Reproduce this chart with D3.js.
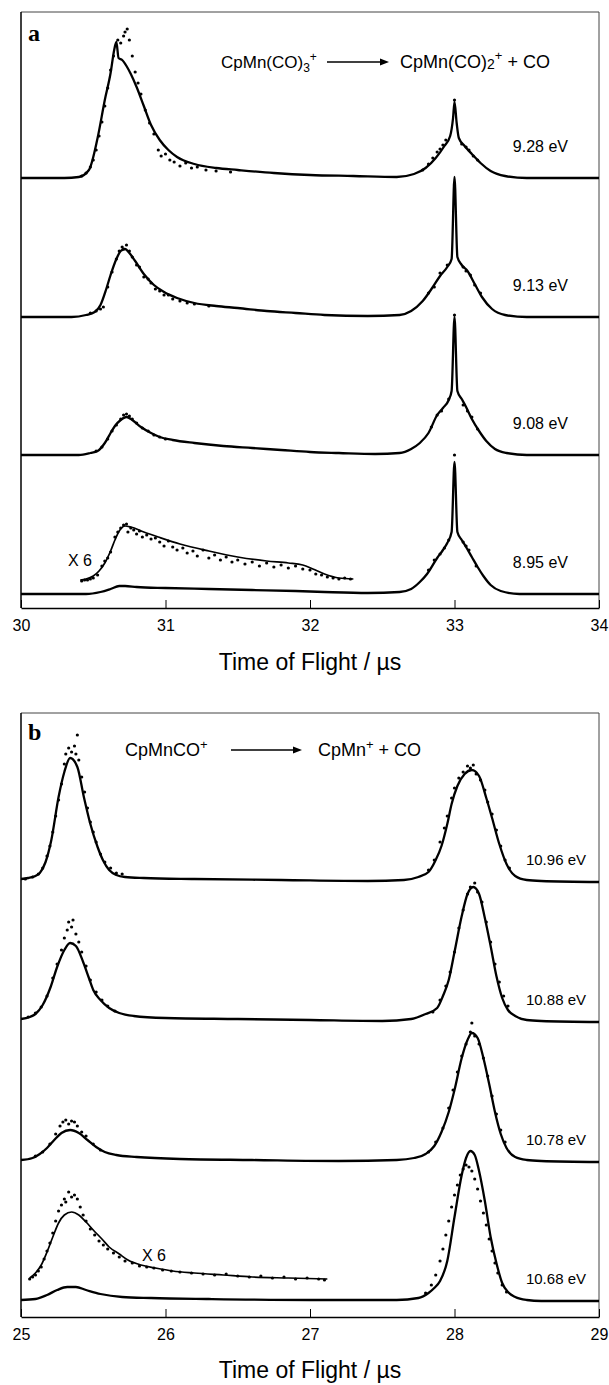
<!DOCTYPE html>
<html>
<head>
<meta charset="utf-8">
<script src="https://cdn.jsdelivr.net/npm/d3@7"></script>
<style>
  body { margin: 0; background: #fff; }
  svg { display: block; font-family: "Liberation Sans", Arial, sans-serif; }
</style>
</head>
<body>
<svg id="chart" width="609" height="1385"></svg>
<script>
// ---- panel a : CpMn(CO)3+ -> CpMn(CO)2+ + CO ----
var ticksA = [30, 31, 32, 33, 34];
var energiesA = ["9.28 eV", "9.13 eV", "9.08 eV", "8.95 eV"];
var offsetsA = [430, 291, 153, 14];   // stacking of the traces (a.u.)

// fitted curves [time (us), intensity (a.u.)]
var fitA1 = [[30.00,0],[30.30,0],[30.40,1],[30.47,8],[30.53,40],[30.58,78],[30.62,105],[30.645,128],[30.66,136],[30.675,120],[30.70,118],[30.73,112],[30.76,104],[30.80,91],[30.85,72],[30.90,53],[30.96,38],[31.02,28],[31.08,21],[31.20,14],[31.35,10],[31.50,8],[31.75,5],[32.00,3],[32.30,2],[32.60,1],[32.72,4],[32.80,10],[32.87,20],[32.93,32],[32.97,42],[32.99,60],[33.00,76],[33.015,55],[33.03,40],[33.07,32],[33.12,24],[33.18,15],[33.25,7],[33.35,2],[33.50,0],[34.00,0]];
var fitA2 = [[30.00,0],[30.35,0],[30.45,2],[30.51,5],[30.55,12],[30.59,28],[30.62,42],[30.66,58],[30.69,66],[30.72,68],[30.75,64],[30.79,56],[30.85,43],[30.92,32],[30.99,25],[31.08,19],[31.20,14],[31.35,11],[31.50,9],[31.70,6],[31.90,4],[32.10,2],[32.40,1],[32.62,2],[32.70,6],[32.78,16],[32.85,30],[32.90,41],[32.95,50],[32.98,58],[33.00,140],[33.02,60],[33.05,52],[33.09,46],[33.14,33],[33.19,20],[33.26,8],[33.35,2],[33.50,0],[34.00,0]];
var fitA3 = [[30.00,0],[30.40,0],[30.48,2],[30.53,4],[30.58,12],[30.62,22],[30.65,29],[30.69,35],[30.73,38],[30.77,35],[30.83,28],[30.90,22],[30.96,18],[31.05,15],[31.20,12],[31.40,9],[31.60,7],[31.80,5],[32.00,3],[32.20,2],[32.45,1],[32.62,2],[32.70,6],[32.76,12],[32.82,22],[32.88,40],[32.92,47],[32.96,55],[32.98,64],[33.00,138],[33.02,64],[33.05,56],[33.08,48],[33.12,36],[33.17,24],[33.22,14],[33.28,6],[33.36,2],[33.50,0],[34.00,0]];
var fitA4 = [[30.00,0],[30.45,0],[30.55,2],[30.62,5],[30.68,8],[30.72,8],[30.80,7],[31.00,6],[31.30,5],[31.60,4],[31.90,3],[32.10,2],[32.40,1],[32.62,2],[32.70,5],[32.76,12],[32.81,20],[32.88,36],[32.92,44],[32.95,51],[32.98,62],[33.00,132],[33.02,62],[33.05,54],[33.08,47],[33.12,37],[33.16,27],[33.20,18],[33.25,9],[33.32,3],[33.45,0],[34.00,0]];
var x6FitA = [[30.41,14],[30.45,15],[30.50,18],[30.54,23],[30.58,31],[30.62,43],[30.65,54],[30.68,63],[30.72,68],[30.76,67],[30.85,62],[30.95,57],[31.10,50],[31.30,43],[31.50,37],[31.70,33],[31.85,31],[31.95,29],[32.02,25],[32.10,20],[32.20,16],[32.30,15]];

// measured points
var dotsA1 = [[30.42,2],[30.45,5],[30.48,11],[30.50,18],[30.52,28],[30.54,42],[30.56,56],[30.58,72],[30.60,90],[30.62,108],[30.64,122],[30.67,138],[30.69,135],[30.71,142],[30.72,146],[30.735,149],[30.75,138],[30.77,122],[30.79,106],[30.81,95],[30.83,84],[30.86,68],[30.89,55],[30.92,44],[30.95,28],[30.97,22],[31.00,24],[31.03,18],[31.06,16],[31.10,12],[31.14,15],[31.18,10],[31.22,11],[31.28,8],[31.35,7],[31.45,6],[32.78,8],[32.82,14],[32.85,20],[32.88,26],[32.90,29],[32.92,33],[32.94,38],[33.00,78],[33.05,34],[33.08,31],[33.10,28],[33.13,22],[33.16,18]];
var dotsA2 = [[30.48,4],[30.52,6],[30.55,8],[30.57,10],[30.60,30],[30.63,45],[30.66,58],[30.68,66],[30.70,70],[30.71,68],[30.73,72],[30.75,66],[30.77,60],[30.80,52],[30.82,50],[30.85,40],[30.88,38],[30.90,34],[30.93,28],[30.96,26],[30.99,22],[31.02,22],[31.05,18],[31.10,16],[31.15,14],[31.20,13],[31.30,11],[32.82,24],[32.86,30],[32.90,44],[32.95,52],[33.00,132],[33.06,50],[33.08,46],[33.11,42],[33.14,32],[33.18,24]];
var dotsA3 = [[30.52,4],[30.56,8],[30.60,16],[30.63,24],[30.66,30],[30.69,36],[30.71,40],[30.73,41],[30.75,39],[30.77,36],[30.80,32],[30.84,27],[30.88,24],[30.92,20],[30.96,18],[31.00,16],[32.84,28],[32.88,40],[32.91,44],[32.96,56],[33.00,140],[33.06,50],[33.09,44],[33.12,38],[33.16,26]];
var dotsA4 = [[32.82,24],[32.86,34],[32.90,40],[32.93,46],[32.96,54],[33.00,139],[33.06,52],[33.08,48],[33.10,44],[33.15,28]];
var x6DotsA = [[30.42,13],[30.44,14],[30.46,14],[30.48,15],[30.50,16],[30.53,19],[30.56,28],[30.58,33],[30.60,36],[30.62,42],[30.65,57],[30.67,62],[30.69,66],[30.71,69],[30.73,70],[30.74,62],[30.76,66],[30.78,64],[30.80,60],[30.82,63],[30.84,57],[30.87,59],[30.90,55],[30.93,56],[30.96,52],[30.99,48],[31.02,53],[31.05,47],[31.08,44],[31.12,46],[31.15,41],[31.19,43],[31.22,38],[31.26,44],[31.30,36],[31.34,39],[31.38,34],[31.42,37],[31.46,32],[31.50,34],[31.55,30],[31.60,32],[31.65,28],[31.70,31],[31.75,27],[31.80,29],[31.85,26],[31.90,28],[31.95,25],[32.00,24],[32.04,20],[32.08,19],[32.12,17],[32.16,16],[32.20,15],[32.24,16],[32.28,15]];

// ---- panel b : CpMnCO+ -> CpMn+ + CO ----
var ticksB = [25, 26, 27, 28, 29];
var energiesB = ["10.96 eV", "10.88 eV", "10.78 eV", "10.68 eV"];
var offsetsB = [435, 295, 155, 16];

var fitB1 = [[25.00,3],[25.05,4],[25.10,6],[25.13,9],[25.17,20],[25.21,42],[25.26,85],[25.30,110],[25.34,124],[25.39,115],[25.435,85],[25.48,58],[25.53,35],[25.57,21],[25.61,12],[25.66,7],[25.72,5],[25.85,4],[26.20,3],[26.80,2],[27.40,1],[27.65,2],[27.75,5],[27.82,10],[27.87,22],[27.91,36],[27.95,58],[27.98,78],[28.02,96],[28.07,108],[28.12,112],[28.17,106],[28.22,84],[28.26,64],[28.31,38],[28.36,18],[28.42,6],[28.50,2],[28.60,1],[29.00,0]];
var fitB2 = [[25.00,3],[25.06,5],[25.10,8],[25.15,17],[25.205,35],[25.25,55],[25.30,72],[25.34,79],[25.38,76],[25.43,60],[25.47,44],[25.50,32],[25.55,22],[25.61,14],[25.68,9],[25.78,6],[26.00,4],[26.50,3],[27.00,2],[27.50,1],[27.70,3],[27.80,8],[27.88,14],[27.92,26],[27.96,42],[28.00,70],[28.05,106],[28.09,128],[28.13,135],[28.17,128],[28.21,104],[28.25,76],[28.29,46],[28.33,24],[28.37,12],[28.42,6],[28.50,2],[28.60,1],[29.00,0]];
var fitB3 = [[25.00,2],[25.08,4],[25.13,8],[25.18,14],[25.23,22],[25.28,29],[25.34,32],[25.40,29],[25.46,22],[25.52,15],[25.58,10],[25.66,7],[25.80,5],[26.10,3],[26.60,2],[27.20,1],[27.60,2],[27.72,4],[27.80,8],[27.86,16],[27.91,30],[27.96,50],[28.00,72],[28.05,104],[28.09,122],[28.12,129],[28.16,124],[28.20,104],[28.24,78],[28.28,50],[28.32,28],[28.36,14],[28.42,5],[28.50,2],[28.60,1],[29.00,0]];
var fitB4 = [[25.00,1],[25.10,2],[25.18,6],[25.25,11],[25.32,14],[25.38,14],[25.45,11],[25.55,7],[25.70,4],[25.90,3],[26.30,2],[27.00,1],[27.60,1],[27.75,3],[27.82,8],[27.86,13],[27.90,20],[27.95,40],[28.00,84],[28.05,126],[28.08,143],[28.11,150],[28.14,146],[28.17,130],[28.21,100],[28.25,64],[28.29,38],[28.33,18],[28.37,9],[28.42,4],[28.50,1],[28.60,0],[29.00,0]];
var x6FitB = [[25.06,23],[25.10,28],[25.14,36],[25.18,49],[25.22,64],[25.26,78],[25.30,86],[25.35,89],[25.40,86],[25.45,79],[25.50,71],[25.56,62],[25.61,54],[25.68,47],[25.74,41],[25.83,36],[25.93,33],[26.05,30],[26.20,28],[26.40,26],[26.60,24],[26.85,23],[27.12,22]];

var dotsB1 = [[25.03,3],[25.08,5],[25.12,8],[25.15,14],[25.18,26],[25.20,36],[25.22,50],[25.24,66],[25.26,82],[25.28,98],[25.30,118],[25.31,128],[25.33,134],[25.35,130],[25.37,136],[25.38,128],[25.39,147],[25.40,122],[25.42,105],[25.44,90],[25.46,74],[25.48,60],[25.50,50],[25.52,40],[25.55,28],[25.58,20],[25.62,14],[25.66,9],[25.70,8],[27.82,12],[27.86,22],[27.90,40],[27.93,54],[27.95,66],[27.98,84],[28.00,94],[28.03,104],[28.06,110],[28.09,116],[28.11,114],[28.13,117],[28.15,108],[28.18,102],[28.21,92],[28.23,80],[28.26,68],[28.29,52],[28.32,36],[28.35,22],[28.38,14]];
var dotsB2 = [[25.05,5],[25.10,9],[25.14,15],[25.18,26],[25.22,44],[25.25,58],[25.28,72],[25.30,84],[25.32,92],[25.33,100],[25.35,95],[25.36,102],[25.38,88],[25.40,80],[25.42,70],[25.45,56],[25.48,42],[25.52,30],[25.56,22],[25.60,16],[25.65,11],[27.85,10],[27.90,22],[27.94,36],[27.97,50],[28.00,70],[28.03,94],[28.06,112],[28.09,128],[28.11,135],[28.14,139],[28.16,130],[28.19,120],[28.22,100],[28.25,80],[28.28,58],[28.31,40],[28.34,26],[28.37,16]];
var dotsB3 = [[25.10,6],[25.15,10],[25.20,18],[25.24,28],[25.27,36],[25.29,40],[25.31,42],[25.33,38],[25.35,41],[25.37,40],[25.39,36],[25.42,30],[25.45,26],[25.50,18],[25.55,12],[27.82,10],[27.87,20],[27.92,34],[27.96,54],[27.99,72],[28.02,90],[28.05,106],[28.08,118],[28.11,130],[28.12,139],[28.14,126],[28.17,118],[28.20,104],[28.23,86],[28.26,66],[28.29,48],[28.32,32],[28.35,20]];
var dotsB4 = [[27.80,8],[27.84,16],[27.87,26],[27.90,40],[27.92,52],[27.94,66],[27.96,80],[27.98,94],[28.00,106],[28.02,116],[28.04,126],[28.06,132],[28.08,136],[28.10,134],[28.12,130],[28.14,122],[28.16,112],[28.18,100],[28.20,88],[28.22,76],[28.24,62],[28.26,50],[28.28,38],[28.30,28],[28.33,16],[28.36,9]];
var x6DotsB = [[25.06,22],[25.08,24],[25.10,26],[25.12,30],[25.14,34],[25.16,42],[25.18,50],[25.20,58],[25.22,68],[25.24,80],[25.26,90],[25.28,96],[25.30,102],[25.31,99],[25.33,109],[25.35,104],[25.37,106],[25.39,102],[25.41,94],[25.43,86],[25.45,80],[25.48,72],[25.51,66],[25.54,60],[25.57,56],[25.60,52],[25.64,48],[25.68,44],[25.72,40],[25.77,38],[25.82,35],[25.87,34],[25.92,33],[25.98,31],[26.04,30],[26.10,29],[26.18,28],[26.26,27],[26.34,26],[26.42,27],[26.50,25],[26.58,24],[26.66,25],[26.74,23],[26.82,24],[26.90,22],[26.98,23],[27.06,22],[27.10,21]];

var svg = d3.select('#chart');

function drawPanel(p) {
  var x = d3.scaleLinear().domain(p.domain).range([21, 599]);
  var y = d3.scaleLinear().domain([0, p.bottom - p.top]).range([p.bottom, p.top]);
  var g = svg.append('g');

  // frame: thin top / right edges, heavy left edge
  g.append('line').attr('x1', 21).attr('x2', 599).attr('y1', p.top).attr('y2', p.top)
    .attr('stroke', '#444').attr('stroke-width', 1);
  g.append('line').attr('x1', 599).attr('x2', 599).attr('y1', p.top).attr('y2', p.bottom)
    .attr('stroke', '#444').attr('stroke-width', 1);
  g.append('line').attr('x1', 21).attr('x2', 21).attr('y1', p.top).attr('y2', p.bottom)
    .attr('stroke', '#000').attr('stroke-width', 1.5);

  var axis = g.append('g').attr('transform', 'translate(0,' + p.bottom + ')')
    .call(d3.axisBottom(x).tickValues(p.ticks).tickSizeInner(-8).tickSizeOuter(0)
      .tickPadding(12).tickFormat(d3.format('d')));
  axis.select('.domain').attr('stroke-width', 1.5);
  axis.selectAll('text').attr('font-size', 16).attr('fill', '#000')
    .attr('font-family', '"Liberation Sans", Arial, sans-serif');

  g.append('text').attr('x', 310).attr('y', p.titleY).attr('text-anchor', 'middle')
    .attr('font-size', 23).text('Time of Flight / µs');

  g.append('text').attr('x', 28).attr('y', p.letterY)
    .attr('font-family', '"Liberation Serif", "Times New Roman", serif')
    .attr('font-weight', 'bold').attr('font-size', 24).text(p.letter);

  var line = d3.line()
    .x(function (d) { return x(d[0]); })
    .y(function (d) { return y(d[1] + d[2]); })
    .curve(d3.curveMonotoneX);

  function shift(arr, off) {
    return arr.map(function (d) { return [d[0], d[1], off]; });
  }

  p.fits.forEach(function (fit, i) {
    var off = p.offsets[i];
    g.append('path').datum(shift(fit, off)).attr('d', line)
      .attr('fill', 'none').attr('stroke', '#000').attr('stroke-width', 2.3)
      .attr('stroke-linejoin', 'round');
    g.selectAll(null).data(shift(p.dots[i], off)).enter().append('circle')
      .attr('cx', function (d) { return x(d[0]); })
      .attr('cy', function (d) { return y(d[1] + d[2]); })
      .attr('r', 1.6).attr('fill', '#000');
    g.append('text').attr('x', p.labelX).attr('y', y(off) - p.labelDy)
      .attr('text-anchor', 'end').attr('font-size', p.labelSize).text(p.labels[i]);
  });

  // x 6 magnified trace of the lowest energy
  var last = p.offsets[p.offsets.length - 1];
  g.append('path').datum(shift(p.x6Fit, last)).attr('d', line)
    .attr('fill', 'none').attr('stroke', '#000').attr('stroke-width', 1.7);
  g.selectAll(null).data(shift(p.x6Dots, last)).enter().append('circle')
    .attr('cx', function (d) { return x(d[0]); })
    .attr('cy', function (d) { return y(d[1] + d[2]); })
    .attr('r', 1.6).attr('fill', '#000');
  g.append('text').attr('x', p.x6Pos[0]).attr('y', p.x6Pos[1])
    .attr('font-size', 16).text('X 6');

  // reaction header
  var h = p.header;
  var t1 = g.append('text').attr('x', h.x1).attr('y', h.y).attr('font-size', h.size);
  h.left.forEach(function (s) {
    t1.append('tspan').attr('dy', s[1]).attr('font-size', s[2] || h.size).text(s[0]);
  });
  g.append('line').attr('x1', h.a1).attr('x2', h.a2 - 7).attr('y1', h.y - 6).attr('y2', h.y - 6)
    .attr('stroke', '#000').attr('stroke-width', 1.3);
  g.append('path')
    .attr('d', 'M' + h.a2 + ',' + (h.y - 6) + 'L' + (h.a2 - 9) + ',' + (h.y - 9.5) +
      'L' + (h.a2 - 9) + ',' + (h.y - 2.5) + 'Z')
    .attr('fill', '#000');
  var t2 = g.append('text').attr('x', h.x2).attr('y', h.y).attr('font-size', h.size2 || h.size);
  h.right.forEach(function (s) {
    t2.append('tspan').attr('dy', s[1]).attr('font-size', s[2] || h.size2 || h.size).text(s[0]);
  });
}

drawPanel({
  domain: [30, 34], ticks: ticksA, top: 12, bottom: 608, titleY: 670,
  letter: 'a', letterY: 41,
  fits: [fitA1, fitA2, fitA3, fitA4], dots: [dotsA1, dotsA2, dotsA3, dotsA4],
  offsets: offsetsA, labels: energiesA, labelX: 568, labelDy: 26, labelSize: 16,
  x6Fit: x6FitA, x6Dots: x6DotsA, x6Pos: [68, 566],
  header: {
    x1: 221, x2: 400, a1: 327, a2: 389, y: 68, size: 17, size2: 18,
    left: [['CpMn(CO)', 0], ['3', 4, 12], ['+', -11, 12]],
    right: [['CpMn(CO)', 0], ['2', 1, 14], ['+', -9, 13], [' + CO', 8]]
  }
});

drawPanel({
  domain: [25, 29], ticks: ticksB, top: 713, bottom: 1317, titleY: 1378,
  letter: 'b', letterY: 740,
  fits: [fitB1, fitB2, fitB3, fitB4], dots: [dotsB1, dotsB2, dotsB3, dotsB4],
  offsets: offsetsB, labels: energiesB, labelX: 586, labelDy: 17, labelSize: 15,
  x6Fit: x6FitB, x6Dots: x6DotsB, x6Pos: [142, 1261],
  header: {
    x1: 125, x2: 318, a1: 231, a2: 302, y: 756, size: 18,
    left: [['CpMnCO', 0], ['+', -7, 13]],
    right: [['CpMn', 0], ['+', -7, 13], [' + CO', 7]]
  }
});
</script>
</body>
</html>
